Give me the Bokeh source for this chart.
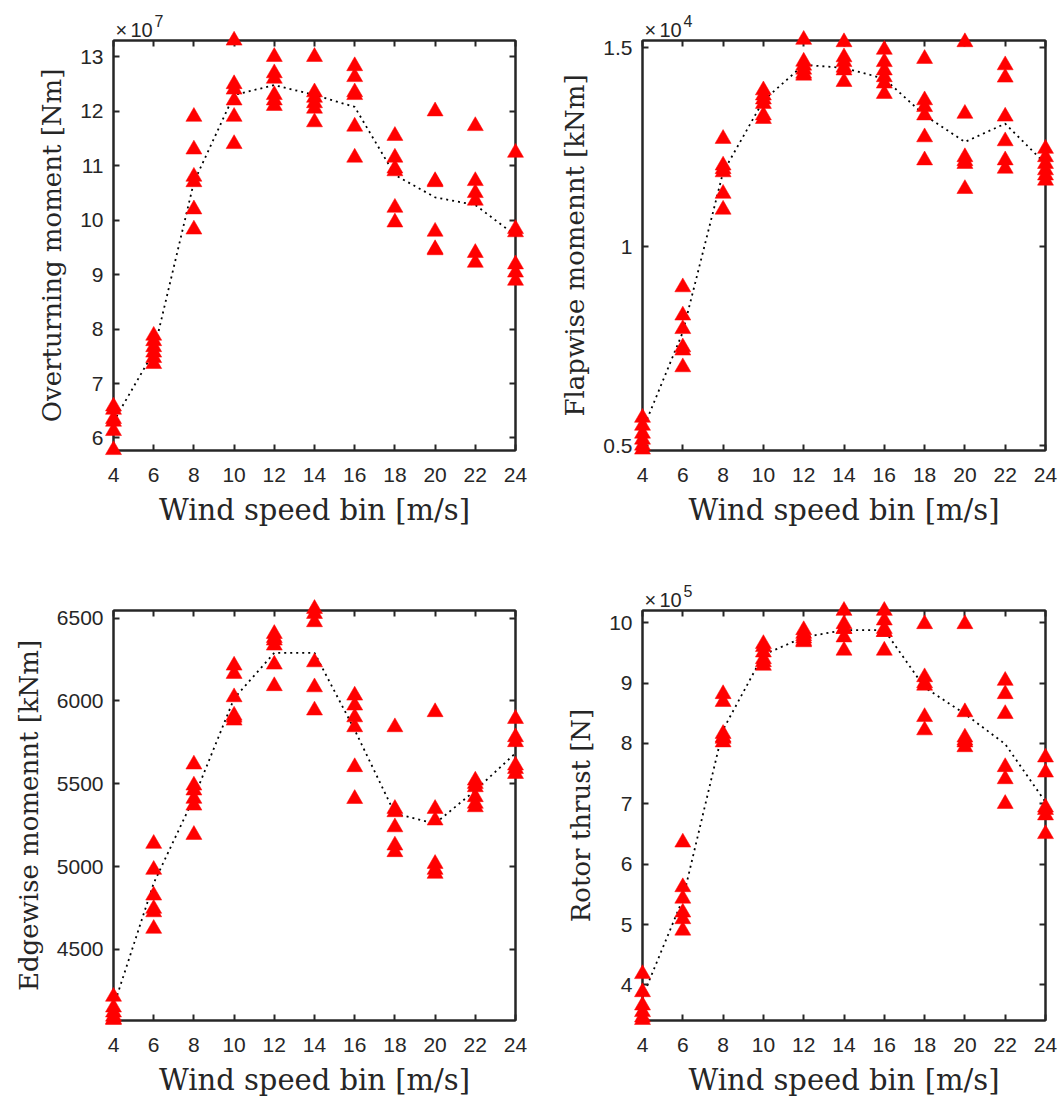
from bokeh.plotting import figure
from bokeh.layouts import column, row
from bokeh.models import Range1d, FixedTicker, LinearAxis, CustomJSTickFormatter, ColumnDataSource
from bokeh.core.properties import value
from bokeh.embed import file_html
from bokeh.resources import INLINE

# ---------------- data ----------------
wind = [4, 6, 8, 10, 12, 14, 16, 18, 20, 22, 24]

# Overturning moment [Nm], x 1e7
overturning = [
    [6.58, 6.52, 6.35, 6.30, 6.13, 5.78],
    [7.88, 7.78, 7.67, 7.57, 7.47, 7.36],
    [11.9, 11.3, 10.8, 10.7, 10.2, 9.83],
    [13.3, 12.5, 12.4, 12.2, 11.9, 11.4],
    [13.0, 12.7, 12.6, 12.3, 12.2, 12.1],
    [13.0, 12.35, 12.25, 12.15, 12.05, 11.8],
    [12.83, 12.63, 12.35, 12.3, 11.72, 11.15],
    [11.55, 11.15, 10.95, 10.9, 10.23, 9.96],
    [12.0, 10.72, 10.7, 9.79, 9.47, 9.45],
    [11.73, 10.72, 10.5, 10.36, 9.4, 9.22],
    [11.24, 9.84, 9.78, 9.19, 9.04, 8.89],
]
overturning_mean = [6.3, 7.58, 10.7, 12.3, 12.48, 12.3, 12.08, 10.83, 10.42, 10.28, 9.72]

# Flapwise moment [kNm], x 1e4
flapwise = [
    [0.57, 0.55, 0.53, 0.515, 0.50, 0.49],
    [0.898, 0.827, 0.793, 0.747, 0.739, 0.697],
    [1.271, 1.204, 1.195, 1.187, 1.133, 1.093],
    [1.393, 1.38, 1.37, 1.359, 1.33, 1.321],
    [1.52, 1.465, 1.455, 1.445, 1.435, 1.43],
    [1.514, 1.476, 1.464, 1.45, 1.443, 1.414],
    [1.495, 1.464, 1.443, 1.426, 1.41, 1.384],
    [1.472, 1.368, 1.351, 1.33, 1.275, 1.217],
    [1.514, 1.334, 1.225, 1.215, 1.208, 1.145],
    [1.456, 1.425, 1.327, 1.265, 1.217, 1.196],
    [1.246, 1.225, 1.208, 1.192, 1.179, 1.166],
]
flapwise_mean = [0.538, 0.785, 1.187, 1.367, 1.457, 1.449, 1.422, 1.33, 1.263, 1.309, 1.208]

# Edgewise moment [kNm]
edgewise = [
    [4215, 4150, 4120, 4095, 4080, 4075],
    [5138, 4981, 4826, 4746, 4725, 4625],
    [5617, 5490, 5460, 5410, 5369, 5192],
    [6214, 6164, 6023, 5912, 5900, 5882],
    [6405, 6380, 6365, 6335, 6220, 6090],
    [6556, 6526, 6476, 6234, 6083, 5943],
    [6033, 5973, 5902, 5842, 5601, 5409],
    [5842, 5349, 5329, 5238, 5128, 5088],
    [5933, 5349, 5279, 5017, 4981, 4957],
    [5520, 5500, 5480, 5420, 5380, 5359],
    [5892, 5782, 5752, 5611, 5590, 5560],
]
edgewise_mean = [4155, 4900, 5415, 6015, 6290, 6290, 5825, 5320, 5260, 5460, 5685]

# Rotor thrust [N], x 1e5
thrust = [
    [4.18, 3.88, 3.66, 3.55, 3.46, 3.42],
    [6.36, 5.62, 5.43, 5.2, 5.09, 4.9],
    [8.82, 8.69, 8.16, 8.1, 8.08, 8.02],
    [9.65, 9.6, 9.51, 9.4, 9.35, 9.29],
    [9.88, 9.82, 9.78, 9.74, 9.7, 9.68],
    [10.2, 9.98, 9.9, 9.9, 9.76, 9.54],
    [10.2, 10.04, 9.9, 9.85, 9.85, 9.54],
    [9.98, 9.1, 9.0, 8.96, 8.44, 8.22],
    [9.98, 8.52, 8.1, 8.05, 8.02, 7.94],
    [9.04, 8.82, 8.49, 7.61, 7.41, 7.0],
    [7.77, 7.52, 6.94, 6.9, 6.81, 6.5],
]
thrust_mean = [3.8, 5.42, 8.23, 9.47, 9.76, 9.88, 9.88, 8.93, 8.49, 7.99, 7.03]

x_ticks = [4, 6, 8, 10, 12, 14, 16, 18, 20, 22, 24]
xlabel = "Wind speed bin [m/s]"

# ---------------- styling ----------------
INK = "#262626"
SERIF = "DejaVu Serif"
SANS = "Liberation Sans"
FRAME_H = 410


def style_axis(ax, ticks, label_size="26px", hide_labels=False):
    ax.ticker = FixedTicker(ticks=ticks)
    ax.major_tick_in = 6
    ax.major_tick_out = 0
    ax.minor_tick_line_color = None
    ax.axis_line_color = INK
    ax.axis_line_width = 2
    ax.major_tick_line_color = INK
    ax.major_tick_line_width = 2
    ax.major_label_text_font = SANS
    ax.major_label_text_font_size = "21px"
    ax.major_label_text_color = INK
    ax.major_label_standoff = 10
    ax.axis_label_text_font = SERIF
    ax.axis_label_text_font_size = label_size
    ax.axis_label_text_font_style = "normal"
    ax.axis_label_text_color = INK
    ax.axis_label_standoff = 10
    if hide_labels:
        ax.formatter = CustomJSTickFormatter(code="return ''")


def panel(bins, mean, ylabel, yr, yticks, overrides, exponent, width, height, bl, br, bt, bb):
    p = figure(width=width, height=height, output_backend="svg", toolbar_location=None,
               x_range=Range1d(4, 24), y_range=Range1d(yr[0], yr[1]),
               min_border_left=bl, min_border_right=br, min_border_top=bt, min_border_bottom=bb,
               background_fill_color="white", border_fill_color="white")
    p.grid.visible = False
    p.outline_line_color = INK
    p.outline_line_width = 2

    style_axis(p.xaxis[0], x_ticks, label_size="29px")
    p.xaxis[0].axis_label = xlabel
    p.xaxis[0].major_label_standoff = 17
    p.xaxis[0].axis_label_standoff = 8
    style_axis(p.yaxis[0], yticks)
    p.yaxis[0].axis_label = ylabel
    if overrides:
        p.yaxis[0].major_label_overrides = overrides

    top = LinearAxis()
    style_axis(top, x_ticks, hide_labels=True)
    p.add_layout(top, "above")
    right = LinearAxis()
    style_axis(right, yticks, hide_labels=True)
    p.add_layout(right, "right")

    xs, ys = [], []
    for w, vals in zip(wind, bins):
        for v in vals:
            xs.append(w)
            ys.append(v)
    src = ColumnDataSource(dict(x=xs, y=ys))

    p.line(wind, mean, line_color="black", line_width=1.8, line_dash="2 4")
    r = p.scatter("x", "y", source=src, marker="triangle", size=16,
                  fill_color="#FF0000", line_color="#FF0000", line_width=0.5)
    r.level = "overlay"

    if exponent:
        span = yr[1] - yr[0]
        ybase = yr[1] + 11 * span / FRAME_H
        ysup = yr[1] + 20 * span / FRAME_H
        for txt, xo, yy, fs in (("×", 2, ybase, "20px"), ("10", 17, ybase, "20px"),
                                (exponent, 41, ysup, "16px")):
            t = p.text(x=[4], y=[yy], text=[txt], x_offset=xo, text_font=value(SANS),
                       text_font_size=value(fs), text_color=INK, text_baseline="alphabetic",
                       text_align="left")
            t.level = "overlay"
    return p


p1 = panel(overturning, overturning_mean, "Overturning moment [Nm]", (5.77, 13.3),
           [6, 7, 8, 9, 10, 11, 12, 13], None, "7", 531, 560, 113, 16, 40, 110)
p2 = panel(flapwise, flapwise_mean, "Flapwise momennt [kNm]", (0.4875, 1.518),
           [0.5, 1.0, 1.5], {0.5: "0.5", 1: "1", 1.5: "1.5"}, "4", 531, 560, 111, 17, 40, 110)
p3 = panel(edgewise, edgewise_mean, "Edgewise momennt [kNm]", (4071, 6546),
           [4500, 5000, 5500, 6000, 6500], None, None, 531, 545, 113, 16, 50, 85)
p4 = panel(thrust, thrust_mean, "Rotor thrust [N]", (3.409, 10.204),
           [4, 5, 6, 7, 8, 9, 10], None, "5", 531, 545, 111, 17, 50, 85)

layout = column(row(p1, p2), row(p3, p4))
open("out.html", "w").write(file_html(layout, INLINE))
